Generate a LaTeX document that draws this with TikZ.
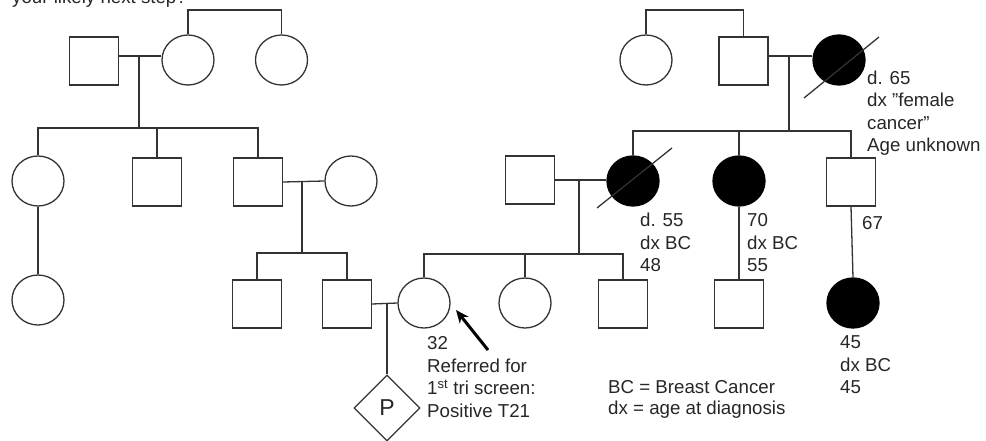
\documentclass[tikz,border=0pt]{standalone}
\usepackage{fontspec}
\setmainfont{Liberation Sans}
\usetikzlibrary{shapes.geometric,arrows.meta}
\begin{document}
\begin{tikzpicture}[x=1pt,y=-1pt,
  ln/.style={draw=black!80, line width=1.3pt},
  male/.style={rectangle, draw=black!80, line width=1.3pt, minimum width=49pt, minimum height=48pt, inner sep=0pt},
  fem/.style={ellipse, draw=black!80, line width=1.3pt, minimum width=52pt, minimum height=50pt, inner sep=0pt},
  aff/.style={fem, fill=black, draw=black},
  lbl/.style={anchor=base west, align=left, inner sep=0pt, text=black!85, font=\fontsize{18.7}{22.5}\selectfont},
  legend/.style={lbl, font=\fontsize{18.7}{21}\selectfont},
  probandarrow/.style={draw=black, line width=3pt, -{Stealth[length=13pt,width=11pt]}}
]
\useasboundingbox (0,0) rectangle (986,441);
\clip (0,0) rectangle (986,441);

% cut-off title
\node[lbl] (title) at (12,4) {your likely next step?};

% generation I
\node[male] (a1) at (94,61) {};
\node[fem]  (a2) at (188,60) {};
\node[fem]  (a3) at (281.5,60) {};
\node[fem]  (b1) at (646,60) {};
\node[male] (b2) at (743.5,61) {};
\node[aff]  (b3) at (839,60) {};

% generation II
\node[fem]  (c1) at (38,181) {};
\node[male] (c2) at (157,182) {};
\node[male] (c3) at (258,182) {};
\node[fem]  (c4) at (351,181) {};
\node[male] (d1) at (530,180) {};
\node[aff]  (d2) at (633,181) {};
\node[aff]  (d3) at (739,181) {};
\node[male] (d4) at (851,182) {};

% generation III
\node[fem]  (h1) at (38,300) {};
\node[male] (e1) at (257,304) {};
\node[male] (e2) at (347,304) {};
\node[fem]  (p)  at (424,303) {};
\node[fem]  (g2) at (525,303) {};
\node[male] (g3) at (623,304) {};
\node[male] (g4) at (739,304) {};
\node[aff]  (g5) at (853,303) {};

% pregnancy
\node[diamond, draw=black!80, line width=1.3pt, minimum width=66pt, minimum height=66pt, inner sep=0pt,
      font=\fontsize{23}{23}\selectfont, text=black!85] (q) at (387,408) {P};

% sibling lines gen I
\draw[ln] (a2.north) -- (a2.north |- 0,10) -| (a3.north);
\draw[ln] (b1.north) -- (b1.north |- 0,10) -| (b2.north);

% marriage A
\coordinate (mA) at (139,56);
\draw[ln] (a1.east |- mA) -- (a2.west |- mA);
\draw[ln] (mA) -- (mA |- 0,128);
\draw[ln] (c1.north) -- (c1.north |- 0,128) -| (c3.north);
\draw[ln] (c2.north) -- (c2.north |- 0,128);

% marriage B
\coordinate (mB) at (789,56);
\draw[ln] (b2.east |- mB) -- (b3.west |- mB);
\draw[ln] (mB) -- (mB |- 0,131);
\draw[ln] (d2.north) -- (d2.north |- 0,131) -| (d4.north);
\draw[ln] (d3.north) -- (d3.north |- 0,131);

% marriage C
\coordinate (mC) at (302,182);
\draw[ln] (c3.east) -- (c4.west);
\draw[ln] (mC) -- (mC |- 0,253);
\draw[ln] (e1.north) -- (e1.north |- 0,253) -| (e2.north);

% marriage D
\coordinate (mD) at (579,180);
\draw[ln] (d1.east) -- (d2.west |- d1.east);
\draw[ln] (mD) -- (mD |- 0,254);
\draw[ln] (p.north) -- (p.north |- 0,254) -| (g3.north);
\draw[ln] (g2.north) -- (g2.north |- 0,254);

% single descents
\draw[ln] (c1.south) -- (h1.north);
\draw[ln] (d3.south) -- (g4.north);
\draw[ln] (d4.south) -- (g5.north);

% marriage E
\coordinate (mE) at (387,303);
\draw[ln] (e2.east) -- (p.west);
\draw[ln] (mE) -- (q.north);

% deceased slashes
\draw[ln] ([shift={(-35,38)}]b3.center) -- ([shift={(40,-23)}]b3.center);
\draw[ln] ([shift={(-36,27)}]d2.center) -- ([shift={(39,-33)}]d2.center);

% proband arrow
\coordinate (arS) at (488,350);
\coordinate (arE) at (456,310);
\draw[probandarrow] (arS) -- (arE);

% labels (base anchor = baseline of the last line)
\node[lbl] (lb3) at (867,152) {d. 65\\dx "female\\cancer”\\Age unknown};
\node[lbl] (ld2) at (640,271.5) {d. 55\\dx BC\\48};
\node[lbl] (ld3) at (747,271.5) {70\\dx BC\\55};
\node[lbl] (ld4) at (862,229.5) {67};
\node[lbl] (lg5) at (840,393.5) {45\\dx BC\\45};
\node[lbl] (lp)  at (427,417) {32\\Referred for\\1\textsuperscript{st} tri screen:\\Positive T21};
\node[legend] (leg) at (608,414.5) {BC = Breast Cancer\\dx = age at diagnosis};
\end{tikzpicture}
\end{document}
